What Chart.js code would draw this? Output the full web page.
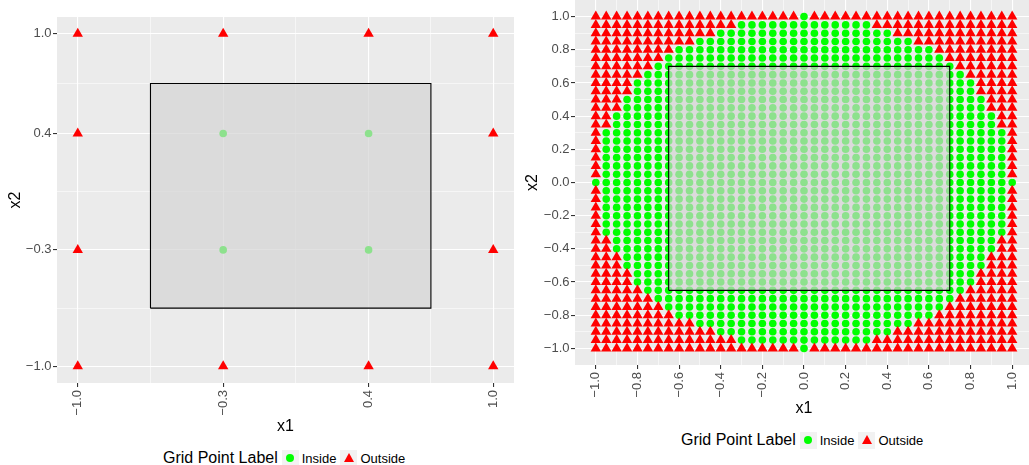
<!DOCTYPE html>
<html>
<head>
<meta charset="utf-8">
<script src="https://cdn.jsdelivr.net/npm/chart.js@4.4.1/dist/chart.umd.min.js"></script>
<style>
  html, body { margin: 0; padding: 0; background: #fff; overflow: hidden; width: 1029px; height: 465px; }
  canvas { position: absolute; }
  #leftChart { left: 0; top: 0; }
  #rightChart { left: 520px; top: -6px; }
  .legend { position: absolute; display: flex; align-items: center; height: 20px;
            font-family: "Liberation Sans", Arial, sans-serif; color: #000; white-space: nowrap; }
  .legend .title { font-size: 16px; margin-right: 4px; }
  .legend .key { width: 17px; height: 17px; background: #f2f2f2; display: flex;
                 align-items: center; justify-content: center; margin-right: 3px; }
  .legend .lab { font-size: 13px; margin-right: 4px; }
  .dot { width: 8px; height: 8px; border-radius: 50%; background: #00ff00; }
  .tri { width: 0; height: 0; border-left: 5px solid transparent; border-right: 5px solid transparent;
         border-bottom: 9px solid #ff0000; margin-top: -1px; }
</style>
</head>
<body>
<canvas id="leftChart" width="520" height="445"></canvas>
<canvas id="rightChart" width="520" height="431"></canvas>
<div class="legend" style="left:163px; top:448px;">
  <span class="title">Grid Point Label</span>
  <span class="key"><span class="dot"></span></span><span class="lab">Inside</span>
  <span class="key"><span class="tri"></span></span><span class="lab">Outside</span>
</div>
<div class="legend" style="left:681px; top:430px;">
  <span class="title">Grid Point Label</span>
  <span class="key"><span class="dot"></span></span><span class="lab">Inside</span>
  <span class="key"><span class="tri"></span></span><span class="lab">Outside</span>
</div>
<script>
// left panel: coarse 4 x 4 grid
const leftGrid = [-1.0, -0.3, 0.4, 1.0];
// rows from top (x2 = 1.0) to bottom (x2 = -1.0); o = Inside, x = Outside
const leftLabels = [
  "xxxx",
  "xoox",
  "xoox",
  "xxxx"
];
const leftBreaks = [-1.0, -0.3, 0.4, 1.0];
const leftMinorBreaks = [-0.65, 0.05, 0.7];

// right panel: fine 41 x 41 grid
const rightGrid = [-1.00, -0.95, -0.90, -0.85, -0.80, -0.75, -0.70, -0.65, -0.60, -0.55,
  -0.50, -0.45, -0.40, -0.35, -0.30, -0.25, -0.20, -0.15, -0.10, -0.05, 0.00,
  0.05, 0.10, 0.15, 0.20, 0.25, 0.30, 0.35, 0.40, 0.45, 0.50,
  0.55, 0.60, 0.65, 0.70, 0.75, 0.80, 0.85, 0.90, 0.95, 1.00];
const rightLabels = [
  "xxxxxxxxxxxxxxxxxxxxoxxxxxxxxxxxxxxxxxxxx",
  "xxxxxxxxxxxxxxoooooooooooooxxxxxxxxxxxxxx",
  "xxxxxxxxxxxxoooooooooooooooooxxxxxxxxxxxx",
  "xxxxxxxxxxoooooooooooooooooooooxxxxxxxxxx",
  "xxxxxxxxoooooooooooooooooooooooooxxxxxxxx",
  "xxxxxxxoooooooooooooooooooooooooooxxxxxxx",
  "xxxxxxoooooooooooooooooooooooooooooxxxxxx",
  "xxxxxoooooooooooooooooooooooooooooooxxxxx",
  "xxxxoooooooooooooooooooooooooooooooooxxxx",
  "xxxxoooooooooooooooooooooooooooooooooxxxx",
  "xxxoooooooooooooooooooooooooooooooooooxxx",
  "xxxoooooooooooooooooooooooooooooooooooxxx",
  "xxoooooooooooooooooooooooooooooooooooooxx",
  "xxoooooooooooooooooooooooooooooooooooooxx",
  "xooooooooooooooooooooooooooooooooooooooox",
  "xooooooooooooooooooooooooooooooooooooooox",
  "xooooooooooooooooooooooooooooooooooooooox",
  "xooooooooooooooooooooooooooooooooooooooox",
  "xooooooooooooooooooooooooooooooooooooooox",
  "xooooooooooooooooooooooooooooooooooooooox",
  "ooooooooooooooooooooooooooooooooooooooooo",
  "xooooooooooooooooooooooooooooooooooooooox",
  "xooooooooooooooooooooooooooooooooooooooox",
  "xooooooooooooooooooooooooooooooooooooooox",
  "xooooooooooooooooooooooooooooooooooooooox",
  "xooooooooooooooooooooooooooooooooooooooox",
  "xooooooooooooooooooooooooooooooooooooooox",
  "xxoooooooooooooooooooooooooooooooooooooxx",
  "xxoooooooooooooooooooooooooooooooooooooxx",
  "xxxoooooooooooooooooooooooooooooooooooxxx",
  "xxxoooooooooooooooooooooooooooooooooooxxx",
  "xxxxoooooooooooooooooooooooooooooooooxxxx",
  "xxxxoooooooooooooooooooooooooooooooooxxxx",
  "xxxxxoooooooooooooooooooooooooooooooxxxxx",
  "xxxxxxoooooooooooooooooooooooooooooxxxxxx",
  "xxxxxxxoooooooooooooooooooooooooooxxxxxxx",
  "xxxxxxxxoooooooooooooooooooooooooxxxxxxxx",
  "xxxxxxxxxxoooooooooooooooooooooxxxxxxxxxx",
  "xxxxxxxxxxxxoooooooooooooooooxxxxxxxxxxxx",
  "xxxxxxxxxxxxxxoooooooooooooxxxxxxxxxxxxxx",
  "xxxxxxxxxxxxxxxxxxxxoxxxxxxxxxxxxxxxxxxxx"
];
const rightBreaks = [-1.0, -0.8, -0.6, -0.4, -0.2, 0.0, 0.2, 0.4, 0.6, 0.8, 1.0];
const rightMinorBreaks = [-0.9, -0.7, -0.5, -0.3, -0.1, 0.1, 0.3, 0.5, 0.7, 0.9];

// shaded box, same on both panels
const boxX = [-0.65, 0.7];
const boxY = [-0.65, 0.7];

const FONT = '"Liberation Sans", Arial, sans-serif';

function splitPoints(grid, rows) {
  const inside = [], outside = [];
  rows.forEach((row, r) => {
    if (row.length !== grid.length) throw new Error('row ' + r + ' has length ' + row.length);
    const y = grid[grid.length - 1 - r];
    for (let c = 0; c < row.length; c++) {
      (row[c] === 'o' ? inside : outside).push({x: grid[c], y: y});
    }
  });
  return {inside, outside};
}

function fmt(v) {
  return (v < 0 ? '\u2212' : '') + Math.abs(v).toFixed(1);
}

function axis(breaks, minors, title, isX, size, titlePad) {
  const isMinor = v => minors.some(m => Math.abs(m - v) < 1e-9);
  const minorTick = c => c.tick && isMinor(c.tick.value);
  return {
    type: 'linear',
    min: -1.1,
    max: 1.1,
    afterBuildTicks: s => {
      s.ticks = breaks.concat(minors).sort((a, b) => a - b).map(v => ({value: v}));
    },
    afterFit: s => {
      if (isX) s.height = size; else s.width = size;
      s.paddingTop = 0; s.paddingBottom = 0; s.paddingLeft = 0; s.paddingRight = 0;
    },
    grid: {
      color: '#ffffff',
      lineWidth: c => minorTick(c) ? 0.55 : 1.1,
      tickColor: c => minorTick(c) ? 'rgba(0,0,0,0)' : '#333333',
      tickWidth: 1.1,
      tickLength: 4
    },
    border: {display: false},
    ticks: {
      autoSkip: false,
      padding: isX ? 3 : 1.5,
      color: '#4d4d4d',
      font: {family: FONT, size: 13},
      minRotation: isX ? 90 : 0,
      maxRotation: isX ? 90 : 0,
      callback: v => isMinor(v) ? '' : fmt(v)
    },
    title: {
      display: true,
      text: title,
      color: '#000000',
      font: {family: FONT, size: 16},
      padding: titlePad
    }
  };
}

const panelBg = {
  id: 'panelBg',
  beforeDraw(chart) {
    const {ctx, chartArea: a} = chart;
    ctx.save();
    ctx.fillStyle = '#ebebeb';
    ctx.fillRect(a.left, a.top, a.right - a.left, a.bottom - a.top);
    ctx.restore();
  }
};

function makeChart(id, grid, rows, breaks, minors, pad, ySize, xSize, xTitlePad, yTitlePad) {
  const pts = splitPoints(grid, rows);
  const box = [
    {x: boxX[0], y: boxY[0]}, {x: boxX[1], y: boxY[0]},
    {x: boxX[1], y: boxY[1]}, {x: boxX[0], y: boxY[1]},
    {x: boxX[0], y: boxY[0]}
  ];
  return new Chart(document.getElementById(id), {
    type: 'scatter',
    data: {
      datasets: [
        {
          label: 'box',
          data: box,
          showLine: true,
          borderColor: '#000000',
          borderWidth: 1.1,
          backgroundColor: 'rgba(211,211,211,0.67)',
          fill: 'shape',
          pointRadius: 0,
          tension: 0,
          order: 0
        },
        {
          label: 'Outside',
          data: pts.outside,
          pointStyle: 'triangle',
          pointRadius: 6,
          pointBackgroundColor: '#ff0000',
          pointBorderWidth: 0,
          order: 1
        },
        {
          label: 'Inside',
          data: pts.inside,
          pointStyle: 'circle',
          pointRadius: 3.8,
          pointBackgroundColor: '#00ff00',
          pointBorderWidth: 0,
          order: 2
        }
      ]
    },
    options: {
      responsive: false,
      animation: false,
      events: [],
      layout: {padding: pad},
      scales: {
        x: axis(breaks, minors, 'x1', true, xSize, {top: 0, bottom: xTitlePad}),
        y: axis(breaks, minors, 'x2', false, ySize, {top: yTitlePad, bottom: 0})
      },
      plugins: {
        legend: {display: false},
        tooltip: {enabled: false}
      }
    },
    plugins: [panelBg]
  });
}

makeChart('leftChart', leftGrid, leftLabels, leftBreaks, leftMinorBreaks,
  {top: 17, right: 5, left: 0, bottom: 0}, 57, 62, 8.4, 6.4);
makeChart('rightChart', rightGrid, rightLabels, rightBreaks, rightMinorBreaks,
  {top: 1, right: 7, left: 0, bottom: 0}, 55, 60, 6.4, 3.4);
</script>
</body>
</html>
